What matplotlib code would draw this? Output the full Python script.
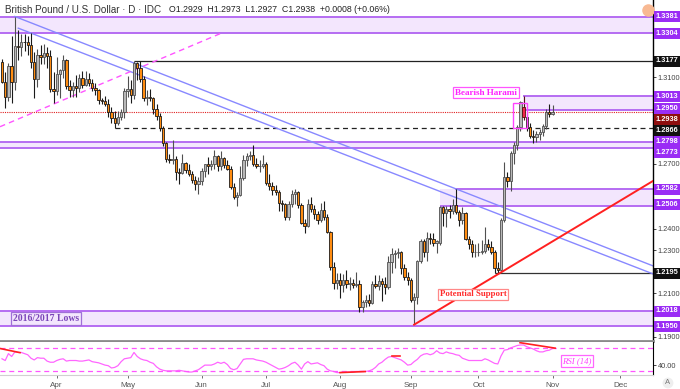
import matplotlib
matplotlib.use('Agg')
import matplotlib.pyplot as plt
import matplotlib.transforms as mtransforms
from matplotlib.patches import Rectangle
import numpy as np

# ---------------- data ----------------
start_day = '2019-03-07'
opens = [1.3170,1.3080,1.3010,1.3150,1.3080,1.3245,1.3240,1.3265,1.3262,1.3250,1.3170,1.3090,1.3205,1.3195,1.3210,1.3200,1.3045,
         1.3035,1.3115,1.3135,1.3180,1.3060,1.3040,1.3060,1.3050,1.3095,1.3065,1.3090,1.3072,1.3050,1.3040,1.2995,1.2990,1.2975,1.2940,1.2910,1.2890,1.2918,1.2940,
         1.3035,1.3045,1.3020,1.3165,1.3145,1.3090,1.3005,1.3010,1.3005,1.2955,1.2920,1.2865,1.2795,1.2720,1.2715,1.2720,1.2660,1.2655,1.2705,1.2670,1.2650,1.2625,1.2605,
         1.2620,1.2665,1.2700,1.2690,1.2700,1.2735,1.2690,1.2725,1.2695,1.2675,1.2590,1.2545,1.2555,1.2635,1.2715,1.2735,1.2740,1.2700,1.2690,1.2690,
         1.2700,1.2610,1.2595,1.2580,1.2570,1.2520,1.2515,1.2455,1.2515,1.2560,1.2570,1.2510,1.2425,1.2410,1.2515,1.2490,1.2465,1.2440,1.2485,1.2455,1.2385,1.2220,1.2150,
         1.2160,1.2140,1.2160,1.2145,1.2150,1.2140,1.2145,1.2035,1.2060,1.2070,1.2055,1.2145,1.2135,1.2155,1.2145,1.2130,1.2245,1.2280,1.2285,1.2290,1.2215,1.2175,
         1.2160,1.2070,1.2085,1.2250,1.2340,1.2290,1.2355,1.2350,1.2335,1.2335,1.2500,1.2470,1.2490,1.2480,1.2510,1.2475,1.2440,1.2470,1.2350,1.2330,1.2290,
         1.2290,1.2290,1.2295,1.2330,1.2315,1.2290,1.2215,1.2210,1.2440,1.2637,1.2620,1.2750,1.2785,1.2870,1.2960,1.2915,1.2870,1.2830,1.2825,1.2835,1.2845,1.2875,1.2940,
         1.2929]
highs = [1.3185,1.3125,1.3165,1.3290,1.3381,1.3320,1.3300,1.3300,1.3290,1.3305,1.3215,1.3230,1.3250,1.3255,1.3240,1.3225,1.3125,
         1.3195,1.3140,1.3205,1.3185,1.3085,1.3080,1.3110,1.3115,1.3130,1.3130,1.3120,1.3090,1.3075,1.3045,1.3005,1.3015,1.3000,1.2960,1.2945,1.2945,1.2955,1.3050,
         1.3105,1.3085,1.3177,1.3170,1.3175,1.3105,1.3040,1.3045,1.3010,1.2975,1.2935,1.2875,1.2800,1.2745,1.2810,1.2735,1.2680,1.2745,1.2710,1.2700,1.2665,1.2645,1.2640,
         1.2680,1.2700,1.2730,1.2715,1.2765,1.2740,1.2760,1.2730,1.2715,1.2690,1.2610,1.2570,1.2690,1.2740,1.2750,1.2760,1.2785,1.2725,1.2715,1.2740,
         1.2710,1.2650,1.2615,1.2600,1.2580,1.2530,1.2520,1.2525,1.2580,1.2585,1.2575,1.2520,1.2445,1.2535,1.2545,1.2510,1.2480,1.2520,1.2525,1.2465,1.2390,1.2245,1.2195,
         1.2195,1.2190,1.2210,1.2175,1.2165,1.2200,1.2160,1.2070,1.2090,1.2095,1.2155,1.2185,1.2185,1.2170,1.2175,1.2275,1.2310,1.2300,1.2310,1.2295,1.2235,1.2200,
         1.2170,1.2100,1.2255,1.2350,1.2350,1.2385,1.2380,1.2380,1.2345,1.2505,1.2505,1.2505,1.2510,1.2535,1.2582,1.2485,1.2500,1.2475,1.2365,1.2345,1.2330,
         1.2335,1.2345,1.2405,1.2350,1.2340,1.2300,1.2245,1.2450,1.2710,1.2660,1.2760,1.2800,1.2880,1.2990,1.3013,1.2935,1.2890,1.2855,1.2850,1.2860,1.2885,1.2955,1.2975,
         1.2973]
lows = [1.3075,1.2958,1.2990,1.2980,1.3040,1.3180,1.3200,1.3220,1.3205,1.3145,1.3005,1.3055,1.3160,1.3160,1.3145,1.3030,1.2980,
        1.3020,1.3005,1.3095,1.3045,1.3010,1.3010,1.3010,1.3030,1.3050,1.3060,1.3060,1.3035,1.3020,1.2975,1.2975,1.2965,1.2915,1.2890,1.2866,1.2880,1.2900,1.2910,
        1.3010,1.2980,1.3000,1.3085,1.3080,1.2990,1.2970,1.2990,1.2930,1.2900,1.2850,1.2780,1.2710,1.2705,1.2700,1.2625,1.2605,1.2650,1.2655,1.2645,1.2610,1.2580,1.2560,
        1.2600,1.2640,1.2650,1.2670,1.2675,1.2665,1.2670,1.2680,1.2670,1.2585,1.2535,1.2505,1.2550,1.2625,1.2690,1.2715,1.2690,1.2680,1.2660,1.2680,
        1.2600,1.2580,1.2555,1.2555,1.2480,1.2480,1.2440,1.2440,1.2500,1.2515,1.2495,1.2420,1.2380,1.2405,1.2475,1.2445,1.2420,1.2430,1.2440,1.2380,1.2210,1.2120,1.2120,
        1.2080,1.2105,1.2125,1.2115,1.2125,1.2130,1.2015,1.2015,1.2035,1.2040,1.2050,1.2125,1.2115,1.2065,1.2095,1.2120,1.2195,1.2215,1.2265,1.2190,1.2160,1.2140,
        1.2060,1.1959,1.2050,1.2240,1.2270,1.2250,1.2330,1.2320,1.2285,1.2325,1.2410,1.2405,1.2450,1.2465,1.2465,1.2410,1.2420,1.2345,1.2305,1.2270,1.2270,
        1.2275,1.2280,1.2285,1.2300,1.2280,1.2195,1.2195,1.2205,1.2430,1.2590,1.2575,1.2700,1.2765,1.2850,1.2900,1.2850,1.2820,1.2795,1.2800,1.2810,1.2830,1.2860,1.2915,
        1.2927]
closes = [1.3080,1.3010,1.3150,1.3080,1.3245,1.3240,1.3265,1.3262,1.3250,1.3170,1.3090,1.3205,1.3195,1.3210,1.3200,1.3045,1.3035,
          1.3115,1.3135,1.3180,1.3060,1.3040,1.3060,1.3050,1.3095,1.3065,1.3090,1.3072,1.3050,1.3040,1.2995,1.2990,1.2975,1.2940,1.2910,1.2890,1.2918,1.2940,1.3035,
          1.3045,1.3020,1.3165,1.3145,1.3090,1.3005,1.3010,1.3005,1.2955,1.2920,1.2865,1.2795,1.2720,1.2715,1.2720,1.2660,1.2655,1.2705,1.2670,1.2650,1.2625,1.2605,1.2620,
          1.2665,1.2700,1.2690,1.2700,1.2735,1.2690,1.2725,1.2695,1.2675,1.2590,1.2545,1.2555,1.2635,1.2715,1.2735,1.2740,1.2700,1.2690,1.2690,1.2700,
          1.2610,1.2595,1.2580,1.2570,1.2520,1.2515,1.2455,1.2515,1.2560,1.2570,1.2510,1.2425,1.2410,1.2515,1.2490,1.2465,1.2440,1.2485,1.2455,1.2385,1.2220,1.2150,1.2160,
          1.2140,1.2160,1.2145,1.2150,1.2140,1.2145,1.2035,1.2060,1.2070,1.2055,1.2145,1.2135,1.2155,1.2145,1.2130,1.2245,1.2280,1.2285,1.2290,1.2215,1.2175,1.2160,
          1.2070,1.2085,1.2250,1.2340,1.2290,1.2355,1.2350,1.2335,1.2340,1.2500,1.2470,1.2490,1.2480,1.2510,1.2475,1.2440,1.2470,1.2350,1.2330,1.2290,1.2290,
          1.2290,1.2295,1.2330,1.2315,1.2290,1.2215,1.2210,1.2440,1.2637,1.2620,1.2750,1.2785,1.2870,1.2985,1.2915,1.2870,1.2830,1.2825,1.2835,1.2845,1.2875,1.2940,1.2930,
          1.2938]
rsi = [51,48,60,55,63,62,62,60,58,52,49,53,52,52,47,45,45,
       48,50,51,47,48,48,48,47,47,48,49,46,45,44,42,40,39,35,36,39,46,51,
       52,53,62,55,51,49,48,45,43,37,33,31,30,30,30,30,31,30,29,28,28,30,32,
       36,40,40,40,42,45,43,45,41,34,32,34,42,50,51,51,51,49,48,47,
       45,42,39,36,33,34,36,39,43,45,40,33,42,46,42,43,44,41,39,33,30,29,27,
       27,28,28,28,28,29,29,29,29,30,32,36,42,45,50,54,55,53,51,49,45,40,
       41,46,50,56,59,60,58,60,65,61,60,63,61,60,58,57,52,50,48,48,48,
       48,48,51,49,46,43,42,56,66,67,70,72,74,75,75,72,70,68,65,63,63,65,66,69]
harami_idx = 162

month_labels = ['Apr', 'May', 'Jun', 'Jul', 'Aug', 'Sep', 'Oct', 'Nov', 'Dec']
month_starts = ['2019-04-01', '2019-05-01', '2019-06-03', '2019-07-01', '2019-08-01',
                '2019-09-02', '2019-10-01', '2019-11-01', '2019-12-02']
price_ticks = [1.19, 1.20, 1.21, 1.22, 1.23, 1.24, 1.25, 1.26, 1.27, 1.28, 1.29, 1.30, 1.31, 1.32, 1.33, 1.34]
shown_tick_labels = [1.19, 1.21, 1.23, 1.24, 1.27, 1.31]
purple_levels = [1.3381, 1.3304, 1.3013, 1.2950, 1.2798, 1.2773, 1.2582, 1.2506, 1.2018, 1.1950]
black_levels = [1.3177, 1.2866, 1.2195]
last_level = 1.2938

title_text = 'British Pound / U.S. Dollar · D · IDC'
ohlc_text = 'O1.2929  H1.2973  L1.2927  C1.2938  +0.0008 (+0.06%)'

# ---------------- layout ----------------
W, H = 680, 389
fig = plt.figure(figsize=(W / 100, H / 100), dpi=100)
fig.patch.set_facecolor('white')
ax_right = 653 / W
ax = fig.add_axes([0, 1 - 341 / H, ax_right, 341 / H])
rx = fig.add_axes([0, 1 - 375 / H, ax_right, 33 / H])

x = np.arange(len(closes))
xmin, xmax = -0.62, 202.2
ax.set_xlim(xmin, xmax)
rx.set_xlim(xmin, xmax)
ax.set_ylim(1.18794, 1.34574)
rx.set_ylim(22.8, 80.2)

PURPLE_LINE = '#b56cf2'
PURPLE_FILL = '#f3e6fd'
PURPLE_LBL = '#9a2cf5'

# bands
def band(lo, hi, x0, top_x0=None):
    ax.fill_between([x0, xmax], lo, hi, color=PURPLE_FILL, lw=0, zorder=0.5)
    ax.hlines(lo, x0, xmax, color=PURPLE_LINE, lw=1.4, zorder=1)
    ax.hlines(hi, x0 if top_x0 is None else top_x0, xmax, color=PURPLE_LINE, lw=1.4, zorder=1)

band(1.3304, 1.3381, xmin)
band(1.2773, 1.2798, xmin)
band(1.1950, 1.2018, xmin)
band(1.2950, 1.3013, 161.8)
band(1.2506, 1.2582, 136.0, 140.7)

ax.hlines(1.3177, 41, xmax, color='#222222', lw=0.9, zorder=1)
ax.hlines(1.2866, 35, xmax, color='#222222', lw=0.9, ls=(0, (4, 3)), zorder=1)
ax.hlines(1.2195, 153, xmax, color='#333333', lw=0.9, zorder=1)
ax.axhline(last_level, color='#e02020', lw=0.8, ls=(0, (1, 1)), zorder=1)

# trend lines
ax.plot([4, xmax], [1.3381, 1.2227], color='#8888ff', lw=1.0, zorder=1.2)
ax.plot([5.06, xmax], [1.3327, 1.2190], color='#8888ff', lw=1.0, zorder=1.2)
ax.plot([xmin, 68.3], [1.2871, 1.3305], color='#ff55ff', lw=1.0, ls=(0, (4, 3)), zorder=1.2)
ax.plot([128, xmax], [1.1955, 1.2620], color='#ff2020', lw=1.4, zorder=3)

# candles
for i in x:
    o, h, l, c = opens[i], highs[i], lows[i], closes[i]
    up = c >= o
    if i == harami_idx:
        face, edge = '#f0284a', '#551111'
    elif up:
        face, edge = '#b8b8b8', '#505050'
    else:
        face, edge = '#ff8c10', '#1a1a1a'
    ax.vlines(i, l, h, color=edge, lw=0.8, zorder=2)
    ax.bar(i, max(abs(c - o), 0.00015), bottom=min(o, c), width=0.72,
           color=face, edgecolor=edge, linewidth=0.6, zorder=2.5)

# harami box
ax.add_patch(Rectangle((158.7, 1.2864), 4.4, 0.0119, fill=False, ec='#ff44ff', lw=1.0, zorder=3))

# annotations
ax.text(150.4, 1.3029, 'Bearish Harami', family='Liberation Serif', weight='bold', fontsize=6.6,
        color='#ff22ff', ha='center', va='center', zorder=6,
        bbox=dict(boxstyle='square,pad=0.2', fc='white', ec='#ff55ff', lw=0.9))
ax.text(146.3, 1.2095, 'Potential Support', family='Liberation Serif', weight='bold', fontsize=6.3,
        color='#ff2a2a', ha='center', va='center', zorder=6,
        bbox=dict(boxstyle='square,pad=0.2', fc='white', ec='#ff8888', lw=0.9))
ax.text(13.7, 1.1982, '2016/2017 Lows', family='Liberation Serif', weight='bold', fontsize=7,
        color='#7a45b8', ha='center', va='center', zorder=6,
        bbox=dict(boxstyle='square,pad=0.2', fc=PURPLE_FILL, ec='#a070d8', lw=0.9))

# axes styling (price)
for s in ['left', 'top']:
    ax.spines[s].set_visible(False)
ax.spines['right'].set_color('#000000')
ax.spines['right'].set_linewidth(1.0)
ax.spines['bottom'].set_color('#8a8a8a')
ax.spines['bottom'].set_linewidth(2.0)
ax.set_xticks([])
ax.yaxis.tick_right()
ax.set_yticks(price_ticks)
ax.set_yticklabels([f'{v:.4f}' if v in shown_tick_labels else '' for v in price_ticks])
ax.tick_params(axis='y', labelsize=5.3, colors='#444444', length=2, width=0.7, pad=1.5)
for t in ax.get_yticklabels():
    t.set_family('Liberation Sans')

# right-axis level labels, placed in figure pixels (stacked as in the reference)
label_pixel_y = {1.3381: 16.7, 1.3304: 33.3, 1.3177: 61.0, 1.3013: 96.0, 1.2950: 108.0,
                 1.2938: 119.5, 1.2866: 130.5, 1.2798: 141.5, 1.2773: 152.5, 1.2582: 189.0,
                 1.2506: 205.0, 1.2195: 273.0, 1.2018: 311.0, 1.1950: 326.0}
def level_label(v, col):
    py = label_pixel_y[v]
    fig.patches.append(Rectangle((654 / W, 1 - (py + 5.5) / H), 26 / W, 11 / H,
                                 transform=fig.transFigure, fc=col, ec='none', zorder=10))
    fig.text(667 / W, 1 - py / H, f'{v:.4f}', ha='center', va='center', fontsize=5.3,
             family='Liberation Sans', weight='bold', color='white', zorder=11)
for v in purple_levels:
    level_label(v, PURPLE_LBL)
for v in black_levels:
    level_label(v, '#111111')
level_label(last_level, '#8e0f0f')

# title
fig.text(5 / W, 1 - 10 / H, title_text, fontsize=7.1, family='Liberation Sans', color='#333333',
         ha='left', va='center')
fig.text(169 / W, 1 - 10 / H, ohlc_text, fontsize=6.3, family='Liberation Sans', color='#222222',
         ha='left', va='center')
ax.plot([648 / 653], [1 - 10 / 341], 'o', ms=8, color='#f8b993', transform=ax.transAxes,
        clip_on=False, zorder=11)

# ---------------- RSI ----------------
rx.plot(x, rsi, color='#ff66ff', lw=0.9, zorder=2)
rx.axhline(70, color='#ff55ff', lw=0.9, ls=(0, (4, 3)))
rx.axhline(30, color='#ff55ff', lw=0.9, ls=(0, (4, 3)))
rx.plot([xmin, 5.6], [68.9, 61.7], color='#ff2020', lw=1.2, zorder=3)
rx.plot([105, 112.8], [27.0, 28.8], color='#ff2020', lw=1.2, zorder=3)
rx.plot([121, 123.6], [55.1, 55.1], color='#ff2020', lw=1.2, zorder=3)
rx.plot([160.9, 171.8], [79.0, 69.5], color='#ff2020', lw=1.2, zorder=3)
rx.text(178.6, 47.0, 'RSI (14)', family='Liberation Serif', style='italic', fontsize=6.3,
        color='#ff44ff', ha='center', va='center',
        bbox=dict(boxstyle='square,pad=0.2', fc='white', ec='#ff66ff', lw=0.9))

for s in ['left', 'top']:
    rx.spines[s].set_visible(False)
rx.spines['right'].set_color('#000000')
rx.spines['bottom'].set_color('#d0d0d0')
rx.yaxis.tick_right()
rx.set_yticks([40])
rx.set_yticklabels(['40.00'])
rx.tick_params(axis='y', labelsize=5.3, colors='#444444', length=2, width=0.7, pad=1.5)

month_pos = [int(np.busday_count(start_day, d)) for d in month_starts]
rx.set_xticks(month_pos)
rx.set_xticklabels(month_labels)
rx.tick_params(axis='x', labelsize=5.8, colors='#555555', length=2, width=0.6, pad=3)
for t in rx.get_xticklabels() + rx.get_yticklabels():
    t.set_family('Liberation Sans')

fig.text(668 / W, 1 - 383 / H, 'A', fontsize=5.5, color='#777777', ha='center', va='center',
         family='Liberation Sans',
         bbox=dict(boxstyle='circle,pad=0.25', fc='#eeeeee', ec='none'))

fig.savefig('out.png', dpi=100, facecolor='white')
